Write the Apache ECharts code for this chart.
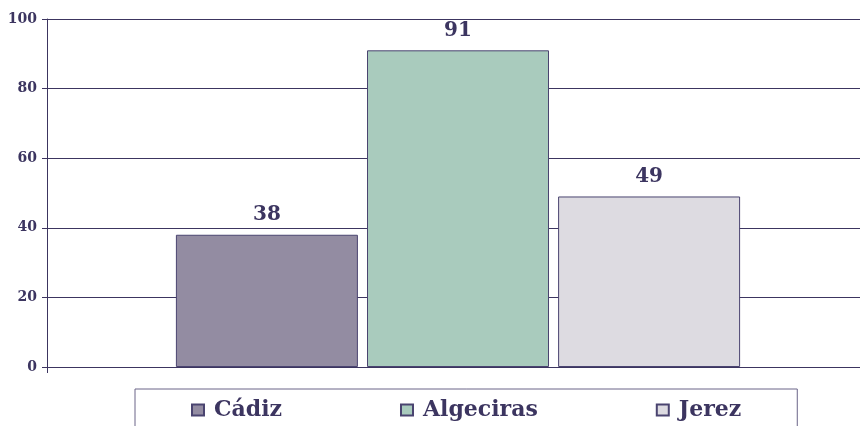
<!DOCTYPE html>
<html>
<head>
<meta charset="utf-8">
<script src="https://cdn.jsdelivr.net/npm/echarts@6/dist/echarts.min.js"></script>
<style>
  html, body { margin: 0; padding: 0; background: #fff; overflow: hidden; }
  /* the original plot runs a little past the right edge */
  #chart { width: 869px; height: 426px; }
</style>
</head>
<body>
<div id="chart"></div>
<script>
// data
var categories = ['Total'];
var seriesNames = ['Cádiz', 'Algeciras', 'Jerez'];
var seriesValues = [[38], [91], [49]];
var seriesColors = ['#938ca2', '#a9cbbd', '#dddbe1'];
var yTicks = [0, 20, 40, 60, 80, 100];

var ink = '#3c3560';
var font = 'DejaVu Serif';

var myChart = echarts.init(document.getElementById('chart'));

var series = seriesNames.map(function (name, i) {
    return {
        name: name,
        type: 'bar',
        data: seriesValues[i],
        barWidth: 182,
        barGap: '5%',
        itemStyle: {
            color: seriesColors[i],
            borderColor: '#4a4470',
            borderWidth: 1
        },
        label: {
            show: true,
            position: 'top',
            distance: 10,
            color: ink,
            fontFamily: font,
            fontWeight: 'bold',
            fontSize: 20
        }
    };
});

var option = {
    animation: false,
    backgroundColor: '#fff',
    grid: {
        left: 47,
        right: 0,
        top: 19,
        bottom: 59
    },
    legend: {
        data: seriesNames,
        left: 135,
        top: 389,
        orient: 'horizontal',
        icon: 'rect',
        itemWidth: 12,
        itemHeight: 11,
        itemGap: 118,
        padding: [9, 56, 30, 56],
        borderColor: '#6a6488',
        borderWidth: 1,
        textStyle: {
            color: ink,
            fontFamily: font,
            fontWeight: 'bold',
            fontSize: 22,
            lineHeight: 24,
            padding: [0, 0, 0, 5]
        }
    },
    xAxis: {
        type: 'category',
        data: categories,
        axisLine: { lineStyle: { color: ink, width: 1 } },
        axisTick: { show: true, length: 6, lineStyle: { color: ink } },
        axisLabel: { show: false }
    },
    yAxis: {
        type: 'value',
        min: yTicks[0],
        max: yTicks[yTicks.length - 1],
        interval: 20,
        axisLine: { show: true, lineStyle: { color: ink, width: 1 } },
        axisTick: { show: true, length: 5, lineStyle: { color: ink } },
        axisLabel: {
            color: ink,
            fontFamily: font,
            fontWeight: 'bold',
            fontSize: 14,
            margin: 10
        },
        splitLine: { lineStyle: { color: ink, width: 1 } }
    },
    series: series
};

myChart.setOption(option);
</script>
</body>
</html>
